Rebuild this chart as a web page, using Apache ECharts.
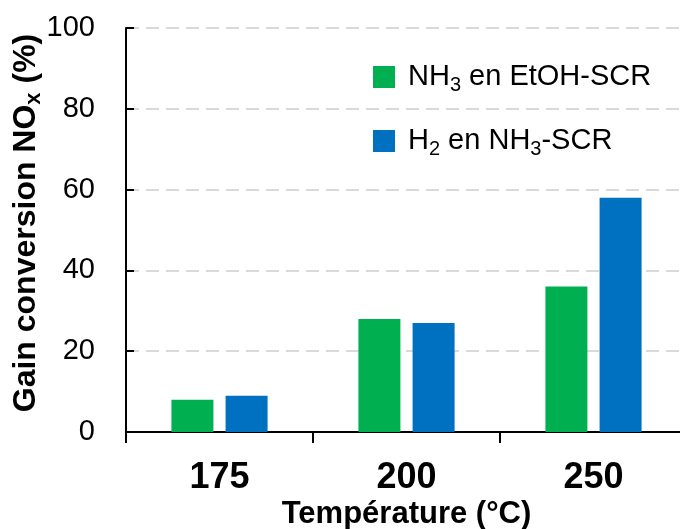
<!DOCTYPE html>
<html>
<head>
<meta charset="utf-8">
<script src="https://cdn.jsdelivr.net/npm/echarts@6/dist/echarts.min.js"></script>
<style>
  html, body { margin: 0; padding: 0; background: #fff; }
  #chart { width: 680px; height: 529px; }
</style>
</head>
<body>
<div id="chart"></div>
<script>
// Temperatures (°C) on the category axis
const temperatures = ['175', '200', '250'];
// NOx conversion gain (%) for each configuration
const gainNH3inEtOH = [8, 28, 36];
const gainH2inNH3 = [9, 27, 58];
// Series names (rich-text markup adds the subscripts)
const seriesNames = ['NH3 en EtOH-SCR', 'H2 en NH3-SCR'];
const legendRich = {
  'NH3 en EtOH-SCR': '{a|NH}{s|3}{a| en EtOH-SCR}',
  'H2 en NH3-SCR': '{a|H}{s|2}{a| en NH}{s|3}{a|-SCR}'
};

const FONT = 'Liberation Sans, Arial, Helvetica, sans-serif';
const chart = echarts.init(document.getElementById('chart'), null, { renderer: 'canvas' });

chart.setOption({
  animation: false,
  backgroundColor: '#ffffff',
  textStyle: { fontFamily: FONT },
  grid: { left: 126, top: 28, bottom: 97, width: 561, containLabel: false, outerBoundsMode: 'none' },
  legend: {
    orient: 'vertical',
    left: 373,
    top: 62,
    padding: 0,
    itemWidth: 22,
    itemHeight: 22,
    itemGap: 31,
    icon: 'rect',
    data: seriesNames,
    formatter: name => legendRich[name],
    textStyle: {
      color: '#000',
      fontFamily: FONT,
      padding: [0, 0, 0, 8],
      rich: {
        a: { fontSize: 29, color: '#000', fontFamily: FONT, lineHeight: 30, verticalAlign: 'middle' },
        // subscript: dropped below the baseline of the main text
        s: { fontSize: 20, color: '#000', fontFamily: FONT, lineHeight: 30, padding: [13, 0, 0, 0], verticalAlign: 'top' }
      }
    }
  },
  xAxis: {
    type: 'category',
    data: temperatures,
    name: 'Température (°C)',
    nameLocation: 'middle',
    nameGap: 67,
    nameMoveOverlap: false,
    nameTextStyle: { fontSize: 31, fontWeight: 'bold', color: '#000', fontFamily: FONT },
    axisLine: { lineStyle: { color: '#000', width: 2 } },
    axisTick: { show: true, inside: false, length: 11, alignWithLabel: false, lineStyle: { color: '#000', width: 2 } },
    axisLabel: { fontSize: 36, fontWeight: 'bold', color: '#000', margin: 28, fontFamily: FONT },
    splitLine: { show: false }
  },
  yAxis: {
    type: 'value',
    min: 0,
    max: 100,
    interval: 20,
    name: '{b|Gain conversion NO}{s|x}{b| (%)}',
    nameLocation: 'middle',
    nameRotate: 90,
    nameGap: 84,
    nameMoveOverlap: false,
    nameTextStyle: {
      padding: [0, 0, 0, 14],
      rich: {
        b: { fontSize: 32, fontWeight: 'bold', color: '#000', fontFamily: FONT, lineHeight: 32, verticalAlign: 'middle' },
        s: { fontSize: 22, fontWeight: 'bold', color: '#000', fontFamily: FONT, lineHeight: 32, padding: [13, 0, 0, 0], verticalAlign: 'top' }
      }
    },
    axisLine: { show: true, lineStyle: { color: '#000', width: 2 } },
    axisTick: { show: true, inside: true, length: 8, lineStyle: { color: '#000', width: 2 } },
    axisLabel: { fontSize: 29, color: '#000', margin: 31, fontFamily: FONT },
    splitLine: { show: true, lineStyle: { color: '#d9d9d9', width: 2, type: [13, 7] } }
  },
  series: [
    {
      name: seriesNames[0],
      type: 'bar',
      data: gainNH3inEtOH,
      barWidth: 42,
      barGap: '29%',
      itemStyle: { color: '#00B050' }
    },
    {
      name: seriesNames[1],
      type: 'bar',
      data: gainH2inNH3,
      barWidth: 42,
      barGap: '29%',
      itemStyle: { color: '#0070C0' }
    }
  ]
});
</script>
</body>
</html>
